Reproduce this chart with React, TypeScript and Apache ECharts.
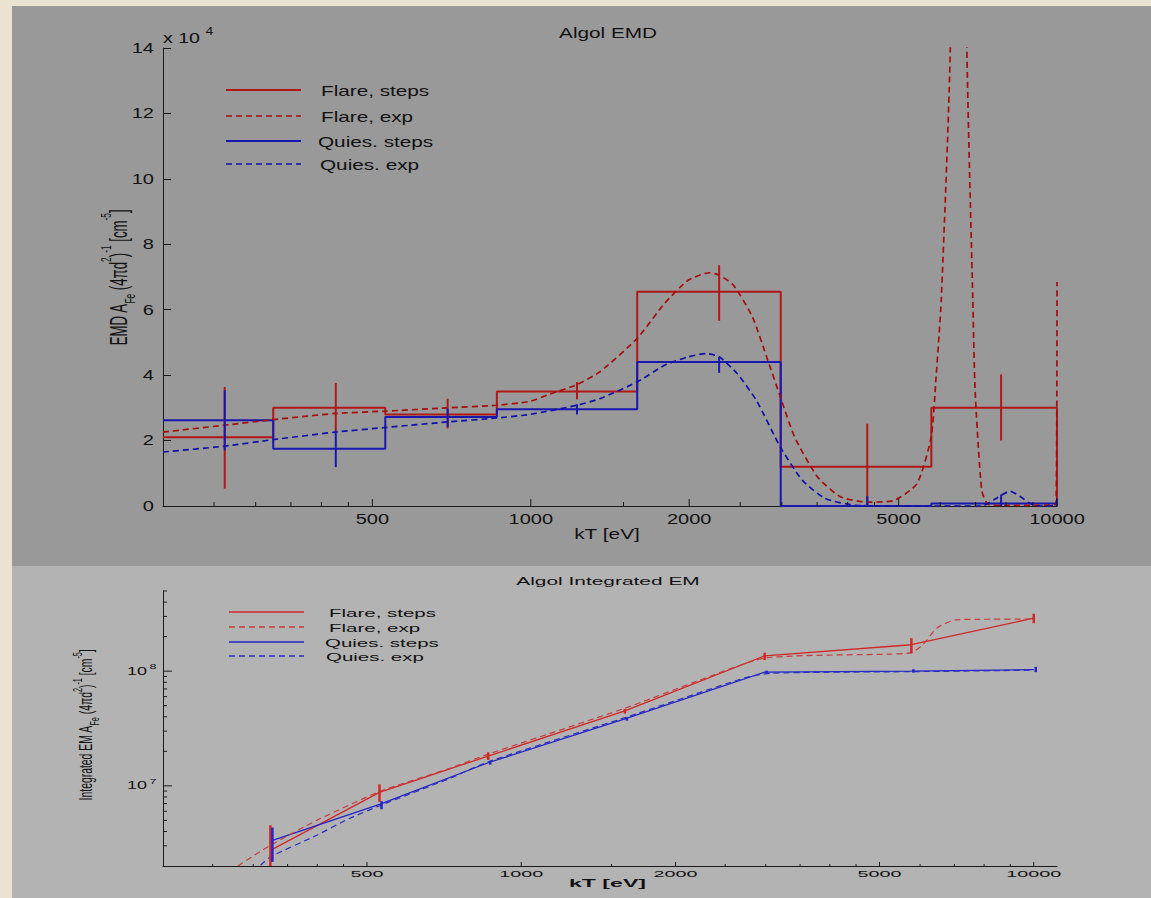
import React, { useEffect, useRef } from 'react';
import * as echarts from 'echarts';

const FF = "'Liberation Sans', Arial, Helvetica, sans-serif";
const INK = '#111111';
const AXIS = '#1a1a1a';

// ---------------- top panel: Algol EMD (values in units of 1e4) ----------------
const binEdges = [200, 324, 529, 862, 1593, 2985, 5770, 10000];
const flareStepLevels = [2.1, 3.0, 2.8, 3.5, 6.55, 1.2, 3.0];
const quiesStepLevels = [2.62, 1.75, 2.72, 2.96, 4.4, 0.0, 0.08];

const errKT = [262, 426, 695, 1224, 2280, 4360, 7830];
const flareErrLow = [0.53, 2.25, 2.37, 3.26, 5.66, 0.0, 2.0];
const flareErrHigh = [3.64, 3.76, 3.28, 3.79, 7.36, 2.52, 4.02];
const quiesErrLow = [1.7, 1.19, 2.42, 2.8, 4.07, 0.0, 0.0];
const quiesErrHigh = [3.54, 2.31, 2.98, 3.11, 4.56, 0.3, 0.35];

const flareExpKT = [200, 262, 324, 426, 529, 695, 861, 996, 1087, 1224, 1352, 1592, 1795, 1991, 2187, 2280, 2427, 2638, 2820, 2981, 3172, 3506, 3878, 4359, 4900, 5418, 5766, 5891, 6026, 6269, 6500, 6741, 6918, 6990, 7194, 7400, 8000, 9000, 9950, 10000];
const flareExpVal = [2.26, 2.47, 2.64, 2.83, 2.9, 3.0, 3.08, 3.2, 3.42, 3.71, 4.1, 5.12, 6.19, 6.9, 7.13, 7.06, 6.75, 5.78, 4.46, 3.33, 2.11, 0.89, 0.28, 0.12, 0.17, 0.68, 2.11, 3.94, 6.3, 14.0, 40.0, 14.0, 6.3, 3.5, 0.48, 0.05, 0.02, 0.02, 0.05, 6.85];

const quiesExpKT = [200, 262, 324, 426, 529, 695, 861, 996, 1224, 1352, 1592, 1795, 1991, 2157, 2280, 2467, 2683, 2981, 3280, 3625, 4146, 5000, 6000, 7194, 7600, 8139, 8500, 8842, 9200, 9950, 10000];
const quiesExpVal = [1.65, 1.83, 2.03, 2.26, 2.4, 2.57, 2.69, 2.8, 3.08, 3.28, 3.79, 4.3, 4.56, 4.66, 4.56, 4.05, 3.23, 1.8, 0.79, 0.23, 0.02, 0.0, 0.0, 0.0, 0.2, 0.45, 0.3, 0.1, 0.0, 0.02, 0.3];

// ---------------- bottom panel: Algol Integrated EM ----------------
const intKT = [324, 529, 862, 1593, 2985, 5770, 10000];
const flareInt = [2.74e6, 8.76e6, 1.82e7, 4.5e7, 1.36e8, 1.7e8, 2.9e8];
const flareIntLow = [2.0e6, 7.25e6, 1.68e7, 4.27e7, 1.25e8, 1.43e8, 2.62e8];
const flareIntHigh = [4.53e6, 1.03e7, 1.96e7, 4.68e7, 1.45e8, 1.94e8, 3.17e8];
const quiesInt = [3.29e6, 6.88e6, 1.59e7, 3.83e7, 9.8e7, 1.0e8, 1.03e8];
const quiesIntLow = [2.17e6, 6.25e6, 1.53e7, 3.7e7, 9.5e7, 9.7e7, 9.8e7];
const quiesIntHigh = [4.33e6, 7.35e6, 1.65e7, 3.95e7, 1.01e8, 1.04e8, 1.09e8];

const flareIntExpKT = [280, 324, 399, 528, 725, 862, 1593, 2191, 2985, 5239, 5770, 6074, 6466, 7021, 7686, 10000];
const flareIntExpVal = [2.0e6, 3.03e6, 5.0e6, 8.87e6, 1.42e7, 1.89e7, 4.75e7, 8.1e7, 1.3e8, 1.41e8, 1.45e8, 1.7e8, 2.37e8, 2.8e8, 2.83e8, 2.85e8];
const quiesIntExpKT = [310, 324, 399, 462, 528, 725, 862, 1593, 2720, 3077, 5770, 10000];
const quiesIntExpVal = [2.03e6, 2.4e6, 3.71e6, 5.19e6, 6.68e6, 1.16e7, 1.62e7, 3.93e7, 8.7e7, 9.6e7, 9.9e7, 1.02e8];

// ---------------- ticks & labels ----------------
const xMajorTicks = [500, 1000, 2000, 5000, 10000];
const xMajorLabels = ['500', '1000', '2000', '5000', '10000'];
const xMinorTicks = [250, 300, 350, 400, 450, 1500, 2500, 3000, 3500, 4000, 4500, 6000, 7000, 8000, 9000];
const topYTicks = [0, 2, 4, 6, 8, 10, 12, 14];
const topYLabels = ['0', '2', '4', '6', '8', '10', '12', '14'];
const botYMajor = [1e7, 1e8];
const botYMajorExp = ['7', '8'];
const botYMinor = [3e6, 4e6, 5e6, 6e6, 7e6, 8e6, 9e6, 2e7, 3e7, 4e7, 5e7, 6e7, 7e7, 8e7, 9e7, 2e8, 3e8, 4e8, 5e8];
const legendLabels = ['Flare, steps', 'Flare, exp', 'Quies. steps', 'Quies. exp'];

const TOP_RED = '#b01818';
const TOP_RED_D = '#a50c0c';
const TOP_BLUE = '#1818b0';
const TOP_BLUE_D = '#1010a8';
const BOT_RED = '#d02828';
const BOT_RED_D = '#c83c3c';
const BOT_BLUE = '#2424c8';
const BOT_BLUE_D = '#2c2cc0';

const zip = (a: number[], b: number[]) => a.map((v, i) => [v, b[i]]);
const stepData = (levels: number[]) =>
  levels.map((l, i) => [binEdges[i], l]).concat([[binEdges[binEdges.length - 1], 0]]);

function label(x: number, y: number, text: string, size: number, sx: number,
  align = 'center', valign = 'middle', weight = 'normal', z = 10) {
  return {
    type: 'text', x, y, scaleX: sx, scaleY: 1, z, silent: true,
    style: {
      text, x: 0, y: 0, fontSize: size, fontFamily: FF, fontWeight: weight, fill: INK,
      align, verticalAlign: valign, textAlign: align, textVerticalAlign: valign,
    },
  };
}

function yLabel(x: number, y: number, head: string, F: number, sub: number, lh: number, sx: number, sy: number) {
  return {
    type: 'text', x, y, rotation: Math.PI / 2, scaleX: sx, scaleY: sy, z: 10, silent: true,
    style: {
      text: `{m|${head} A}{sub|Fe}{m| (4πd}{sup|2}{m|)}{sup|-1}{m| [cm}{sup|-5}{m|]}`,
      x: 0, y: 0, fill: INK,
      align: 'center', verticalAlign: 'middle', textAlign: 'center', textVerticalAlign: 'middle',
      rich: {
        m: { fontSize: F, fontFamily: FF, lineHeight: lh, verticalAlign: 'middle', fill: INK },
        sub: { fontSize: sub, fontFamily: FF, verticalAlign: 'bottom', fill: INK },
        sup: { fontSize: sub, fontFamily: FF, verticalAlign: 'top', fill: INK },
      },
    },
  };
}

function xTickSeries(gi: number, yMin: number, vals: number[], labels: string[] | null,
  len: number, dy: number, fs: number, sx: number) {
  return {
    type: 'custom', xAxisIndex: gi, yAxisIndex: gi, silent: true, clip: false, z: 6,
    data: vals.map((v) => [v, yMin]),
    renderItem: (params: any, api: any) => {
      const p = api.coord([api.value(0), api.value(1)]);
      const children: any[] = [
        { type: 'line', shape: { x1: p[0], y1: p[1], x2: p[0], y2: p[1] - len }, style: { stroke: AXIS, lineWidth: 1 } },
      ];
      if (labels) children.push(label(p[0], p[1] + dy, labels[params.dataIndex], fs, sx));
      return { type: 'group', children };
    },
  };
}

function errSeries(gi: number, kts: number[], lo: number[], hi: number[], color: string, width: number, dx: number) {
  return {
    type: 'custom', xAxisIndex: gi, yAxisIndex: gi, silent: true, z: 5,
    data: kts.map((k, i) => [k, lo[i], hi[i]]),
    renderItem: (params: any, api: any) => {
      const a = api.coord([api.value(0), api.value(1)]);
      const b = api.coord([api.value(0), api.value(2)]);
      return { type: 'line', shape: { x1: a[0] + dx, y1: a[1], x2: b[0] + dx, y2: b[1] }, style: { stroke: color, lineWidth: width } };
    },
  };
}

function legendRows(x1: number, x2: number, ys: number[], tx: number[], colors: string[], dashed: boolean[],
  widths: number[], fs: number, sx: number) {
  const els: any[] = [];
  ys.forEach((y, i) => {
    els.push({
      type: 'line', z: 10, silent: true,
      shape: { x1, y1: y, x2, y2: y },
      style: { stroke: colors[i], lineWidth: widths[i], lineDash: dashed[i] ? [6, 4] : null },
    });
    els.push(label(tx[i], y + 1, legendLabels[i], fs, sx, 'left'));
  });
  return els;
}

function buildOption() {
  const graphics: any[] = [
    { type: 'rect', z: -1, silent: true, shape: { x: 12, y: 6, width: 1139, height: 560 }, style: { fill: '#999999' } },
    { type: 'rect', z: -1, silent: true, shape: { x: 12, y: 566, width: 1139, height: 332 }, style: { fill: '#b3b3b3' } },
    label(608, 33, 'Algol EMD', 14, 1.48),
    label(163, 38.5, 'x 10', 14, 1.4, 'left'),
    label(205.5, 32, '4', 10, 1.4, 'left'),
    label(607, 534.5, 'kT [eV]', 15, 1.39),
    label(608, 581.5, 'Algol Integrated EM', 10, 2.09),
    label(607.5, 883.3, 'kT [eV]', 11, 2.1, 'center', 'middle', 'bold'),
    yLabel(118.5, 277.5, 'EMD', 16, 10, 26, 0.83, 1.5),
    yLabel(85.5, 725, 'Integrated EM', 13, 9, 21, 0.8, 1.45),
    ...legendRows(226, 301, [90, 116, 141, 164], [321, 321, 318, 320],
      [TOP_RED, TOP_RED_D, TOP_BLUE, TOP_BLUE_D], [false, true, false, true], [2, 1.6, 2, 1.6], 14.5, 1.43),
    ...legendRows(229, 304, [612, 627, 642, 656], [329, 329, 325, 326],
      [BOT_RED, BOT_RED_D, BOT_BLUE, BOT_BLUE_D], [false, true, false, true], [1.3, 1.3, 1.3, 1.3], 10.5, 1.95),
  ];

  const hiddenAxisBits = {
    axisTick: { show: false }, axisLabel: { show: false }, splitLine: { show: false },
    axisLine: { show: true, onZero: false, lineStyle: { color: AXIS, width: 1 } },
  };

  return {
    animation: false,
    backgroundColor: '#ebe2d2',
    tooltip: { show: false },
    grid: [
      { left: 163, top: 48, width: 894, height: 458, outerBoundsMode: 'none' },
      { left: 163, top: 591, width: 894, height: 275, outerBoundsMode: 'none' },
    ],
    xAxis: [
      { type: 'log', gridIndex: 0, min: 200, max: 10000, logBase: 10, ...hiddenAxisBits },
      { type: 'log', gridIndex: 1, min: 200, max: 11100, logBase: 10, ...hiddenAxisBits },
    ],
    yAxis: [
      {
        type: 'value', gridIndex: 0, min: 0, max: 14, interval: 2,
        axisLine: { show: true, onZero: false, lineStyle: { color: AXIS, width: 1 } },
        axisTick: { show: true, inside: true, length: 8, lineStyle: { color: AXIS } },
        axisLabel: { show: false }, splitLine: { show: false },
      },
      { type: 'log', gridIndex: 1, min: 2e6, max: 5e8, logBase: 10, ...hiddenAxisBits },
    ],
    graphic: { elements: graphics },
    series: [
      // ----- top -----
      {
        type: 'line', xAxisIndex: 0, yAxisIndex: 0, step: 'end', symbol: 'none', z: 3,
        data: stepData(flareStepLevels), lineStyle: { color: TOP_RED, width: 2 },
      },
      {
        type: 'line', xAxisIndex: 0, yAxisIndex: 0, step: 'end', symbol: 'none', z: 3,
        data: stepData(quiesStepLevels), lineStyle: { color: TOP_BLUE, width: 2 },
      },
      {
        type: 'line', xAxisIndex: 0, yAxisIndex: 0, symbol: 'none', smooth: 0.2, z: 4,
        data: zip(flareExpKT, flareExpVal), lineStyle: { color: TOP_RED_D, width: 1.7, type: [6, 4] },
      },
      {
        type: 'line', xAxisIndex: 0, yAxisIndex: 0, symbol: 'none', smooth: 0.2, z: 4,
        data: zip(quiesExpKT, quiesExpVal), lineStyle: { color: TOP_BLUE_D, width: 1.7, type: [6, 4] },
      },
      errSeries(0, errKT, flareErrLow, flareErrHigh, TOP_RED, 2, 0),
      errSeries(0, errKT, quiesErrLow, quiesErrHigh, TOP_BLUE, 2, 0),
      xTickSeries(0, 0, xMajorTicks, xMajorLabels, 7, 13, 14, 1.43),
      xTickSeries(0, 0, xMinorTicks, null, 4, 0, 14, 1),
      {
        type: 'custom', xAxisIndex: 0, yAxisIndex: 0, silent: true, clip: false, z: 6,
        data: topYTicks.map((v) => [200, v]),
        renderItem: (params: any, api: any) => {
          const p = api.coord([api.value(0), api.value(1)]);
          return label(p[0] - 9, p[1], topYLabels[params.dataIndex], 14, 1.43, 'right');
        },
      },
      // ----- bottom -----
      {
        type: 'line', xAxisIndex: 1, yAxisIndex: 1, symbol: 'none', z: 3,
        data: zip(intKT, flareInt), lineStyle: { color: BOT_RED, width: 1.3 },
      },
      {
        type: 'line', xAxisIndex: 1, yAxisIndex: 1, symbol: 'none', z: 3,
        data: zip(intKT, quiesInt), lineStyle: { color: BOT_BLUE, width: 1.3 },
      },
      {
        type: 'line', xAxisIndex: 1, yAxisIndex: 1, symbol: 'none', smooth: 0.2, z: 4,
        data: zip(flareIntExpKT, flareIntExpVal), lineStyle: { color: BOT_RED_D, width: 1.2, type: [6, 4] },
      },
      {
        type: 'line', xAxisIndex: 1, yAxisIndex: 1, symbol: 'none', smooth: 0.2, z: 4,
        data: zip(quiesIntExpKT, quiesIntExpVal), lineStyle: { color: BOT_BLUE_D, width: 1.2, type: [6, 4] },
      },
      errSeries(1, intKT, flareIntLow, flareIntHigh, BOT_RED, 2.5, 0),
      errSeries(1, intKT, quiesIntLow, quiesIntHigh, BOT_BLUE, 2.5, 2),
      xTickSeries(1, 2e6, xMajorTicks, xMajorLabels, 4, 8, 9, 2.2),
      xTickSeries(1, 2e6, xMinorTicks, null, 2, 0, 9, 1),
      {
        type: 'custom', xAxisIndex: 1, yAxisIndex: 1, silent: true, clip: false, z: 6,
        data: botYMajor.map((v) => [200, v]),
        renderItem: (params: any, api: any) => {
          const p = api.coord([api.value(0), api.value(1)]);
          return {
            type: 'group',
            children: [
              { type: 'line', shape: { x1: p[0], y1: p[1], x2: p[0] + 9, y2: p[1] }, style: { stroke: AXIS, lineWidth: 1 } },
              label(p[0] - 16, p[1], '10', 10, 1.8, 'right'),
              label(p[0] - 13.4, p[1] - 4.5, botYMajorExp[params.dataIndex], 7, 1.8, 'left'),
            ],
          };
        },
      },
      {
        type: 'custom', xAxisIndex: 1, yAxisIndex: 1, silent: true, clip: false, z: 6,
        data: botYMinor.map((v) => [200, v]),
        renderItem: (params: any, api: any) => {
          const p = api.coord([api.value(0), api.value(1)]);
          return { type: 'line', shape: { x1: p[0], y1: p[1], x2: p[0] + 4, y2: p[1] }, style: { stroke: AXIS, lineWidth: 1 } };
        },
      },
    ],
  };
}

export default function App() {
  const ref = useRef<HTMLDivElement>(null);
  useEffect(() => {
    if (!ref.current) return;
    const chart = echarts.init(ref.current, null, { renderer: 'svg' });
    chart.setOption(buildOption() as any);
    return () => chart.dispose();
  }, []);
  return (
    <div
      ref={ref}
      style={{ position: 'absolute', left: 0, top: 0, width: 1151, height: 898, overflow: 'hidden' }}
    />
  );
}
